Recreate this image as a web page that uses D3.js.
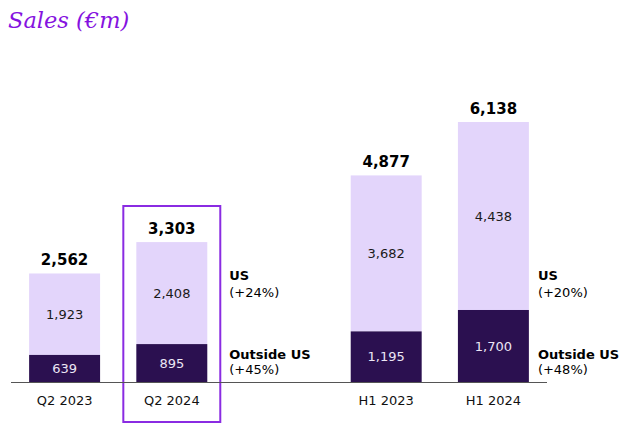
<!DOCTYPE html>
<html>
<head>
<meta charset="utf-8">
<script src="https://cdn.jsdelivr.net/npm/d3@7"></script>
<style>
  body { margin: 0; background: #fff; }
  text { font-family: "DejaVu Sans", Verdana, sans-serif; }
</style>
</head>
<body>
<div id="chart"></div>
<script>
// dati del grafico
const categories = ["Q2 2023", "Q2 2024", "gap", "H1 2023", "H1 2024"];
const outsideUS = [639, 895, null, 1195, 1700];
const us = [1923, 2408, null, 3682, 4438];
const totals = [2562, 3303, null, 4877, 6138];
const highlighted = "Q2 2024";
const growthLabels = [
  { after: "Q2 2024", us: "(+24%)", outside: "(+45%)" },
  { after: "H1 2024", us: "(+20%)", outside: "(+48%)" }
];

const width = 631, height = 434;
const baseline = 382;

const svg = d3.select("#chart").append("svg")
  .attr("width", width)
  .attr("height", height);

// titolo
svg.append("text")
  .attr("x", 8)
  .attr("y", 28)
  .text("Sales (€m)")
  .style("font-family", "'DejaVu Serif', Georgia, serif")
  .style("font-style", "italic")
  .attr("font-size", "22.5px")
  .attr("fill", "#8512e0");

const x = d3.scaleBand()
  .domain(categories)
  .range([11, 547])
  .paddingInner(0.338)
  .paddingOuter(0.169);

const y = d3.scaleLinear()
  .domain([0, 6138])
  .range([baseline, 122]);

const rows = categories.map((c, i) => ({
  cat: c, outside: outsideUS[i], us: us[i], total: totals[i]
})).filter(d => d.total !== null);

// riquadro evidenziato
const boxPad = 13;
svg.append("rect")
  .attr("x", x(highlighted) - boxPad)
  .attr("y", 206)
  .attr("width", x.bandwidth() + boxPad * 2)
  .attr("height", 216)
  .attr("fill", "none")
  .attr("stroke", "#8a2be2")
  .attr("stroke-width", 2);

const g = svg.selectAll("g.bar")
  .data(rows)
  .enter().append("g")
  .attr("class", "bar");

// barre US (sopra)
g.append("rect")
  .attr("x", d => x(d.cat))
  .attr("y", d => y(d.outside + d.us))
  .attr("width", x.bandwidth())
  .attr("height", d => y(d.outside) - y(d.outside + d.us))
  .attr("fill", "#e3d5fb");

// barre fuori US (sotto)
g.append("rect")
  .attr("x", d => x(d.cat))
  .attr("y", d => y(d.outside))
  .attr("width", x.bandwidth())
  .attr("height", d => y(0) - y(d.outside))
  .attr("fill", "#2b1050");

const fmt = d3.format(",");

g.append("text")
  .attr("x", d => x(d.cat) + x.bandwidth() / 2)
  .attr("y", d => (y(d.outside + d.us) + y(d.outside)) / 2)
  .attr("dy", "0.35em")
  .attr("text-anchor", "middle")
  .attr("font-size", "13px")
  .attr("fill", "#1a1a1a")
  .text(d => fmt(d.us));

g.append("text")
  .attr("x", d => x(d.cat) + x.bandwidth() / 2)
  .attr("y", d => (y(d.outside) + y(0)) / 2)
  .attr("dy", "0.35em")
  .attr("text-anchor", "middle")
  .attr("font-size", "13px")
  .attr("fill", "#ece6f5")
  .text(d => fmt(d.outside));

// totali
g.append("text")
  .attr("x", d => x(d.cat) + x.bandwidth() / 2)
  .attr("y", d => y(d.total) - 8)
  .attr("text-anchor", "middle")
  .attr("font-size", "15px")
  .attr("font-weight", "bold")
  .attr("fill", "#000")
  .text(d => fmt(d.total));

// asse orizzontale
svg.append("line")
  .attr("x1", 11).attr("x2", 547)
  .attr("y1", baseline + 0.5).attr("y2", baseline + 0.5)
  .attr("stroke", "#555")
  .attr("stroke-width", 1);

const xAxis = svg.append("g")
  .attr("transform", `translate(0,${baseline})`)
  .call(d3.axisBottom(x).tickSize(0).tickPadding(14)
    .tickFormat(d => d === "gap" ? "" : d));
xAxis.select(".domain").remove();
xAxis.selectAll("text")
  .attr("font-size", "13px")
  .attr("fill", "#111")
  .style("font-family", "'DejaVu Sans', Verdana, sans-serif");

// etichette di crescita
growthLabels.forEach(l => {
  const right = x(l.after) + x.bandwidth() + (l.after === highlighted ? boxPad : 0);
  const lx = right + 9;
  svg.append("text").attr("x", lx).attr("y", 280)
    .attr("font-size", "13px").attr("font-weight", "bold").attr("fill", "#000").text("US");
  svg.append("text").attr("x", lx).attr("y", 297)
    .attr("font-size", "13px").attr("fill", "#000").text(l.us);
  svg.append("text").attr("x", lx).attr("y", 359)
    .attr("font-size", "13px").attr("font-weight", "bold").attr("fill", "#000").text("Outside US");
  svg.append("text").attr("x", lx).attr("y", 374)
    .attr("font-size", "13px").attr("fill", "#000").text(l.outside);
});
</script>
</body>
</html>
